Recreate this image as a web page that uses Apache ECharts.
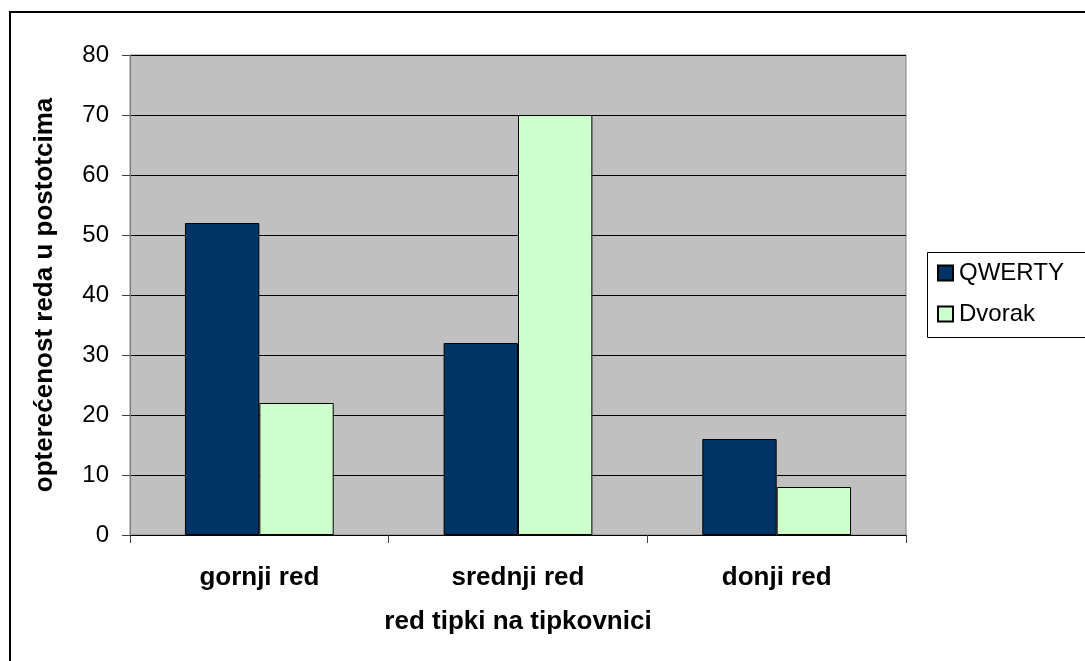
<!DOCTYPE html>
<html>
<head>
<meta charset="utf-8">
<script src="https://cdn.jsdelivr.net/npm/echarts@6/dist/echarts.min.js"></script>
<style>
  html, body { margin: 0; padding: 0; background: #ffffff; overflow: hidden; }
  #chart { width: 1085px; height: 661px; }
</style>
</head>
<body>
<div id="chart"></div>
<script>
  // podaci
  var categories = ['gornji red', 'srednji red', 'donji red'];
  var qwertyValues = [52, 32, 16];
  var dvorakValues = [22, 70, 8];
  var seriesNames = ['QWERTY', 'Dvorak'];

  var font = '"Liberation Sans", Arial, sans-serif';
  var myChart = echarts.init(document.getElementById('chart'));

  var chartOption = {
    backgroundColor: '#ffffff',
    animation: false,
    textStyle: { fontFamily: font },
    graphic: [
      // okvir cijele slike (desni i donji rub izvan slike)
      {
        type: 'rect',
        shape: { x: 10, y: 12, width: 1200, height: 800 },
        style: { fill: 'none', stroke: '#000000', lineWidth: 2 },
        z: 0
      },
      // okvir legende
      {
        type: 'rect',
        shape: { x: 927.5, y: 252.5, width: 200, height: 85 },
        style: { fill: '#ffffff', stroke: '#000000', lineWidth: 1 },
        z: 1
      }
    ],
    legend: {
      orient: 'vertical',
      left: 932,
      top: 256,
      itemWidth: 15,
      itemHeight: 15,
      itemGap: 17,
      icon: 'rect',
      textStyle: { fontSize: 24, lineHeight: 24, color: '#000000', fontFamily: font, padding: [0, 0, 0, 1] },
      data: seriesNames,
      z: 5
    },
    grid: {
      left: 130,
      right: 179,
      top: 55,
      bottom: 126,
      show: true,
      backgroundColor: '#c0c0c0',
      borderColor: '#808080',
      borderWidth: 1
    },
    xAxis: {
      type: 'category',
      data: categories,
      name: 'red tipki na tipkovnici',
      nameLocation: 'middle',
      nameGap: 74,
      nameTextStyle: { fontSize: 26, fontWeight: 'bold', color: '#000000', fontFamily: font },
      axisLine: { lineStyle: { color: '#000000', width: 1 } },
      axisTick: { show: true, length: 8, lineStyle: { color: '#404040' } },
      axisLabel: { fontSize: 26, fontWeight: 'bold', color: '#000000', margin: 30, fontFamily: font }
    },
    yAxis: {
      type: 'value',
      min: 0,
      max: 80,
      interval: 10,
      name: 'opterećenost reda u postotcima',
      nameLocation: 'middle',
      nameGap: 72,
      nameTextStyle: { fontSize: 26, fontWeight: 'bold', color: '#000000', fontFamily: font },
      axisLine: { show: true, lineStyle: { color: '#808080' } },
      axisTick: { show: true, length: 8, lineStyle: { color: '#404040' } },
      axisLabel: { fontSize: 24, color: '#000000', margin: 21, fontFamily: font },
      splitLine: { lineStyle: { color: '#000000', width: 1 } }
    },
    series: [
      {
        name: seriesNames[0],
        type: 'bar',
        data: qwertyValues,
        barGap: '0%',
        barCategoryGap: '42.5%',
        itemStyle: { color: '#003366', borderColor: '#000000', borderWidth: 1 }
      },
      {
        name: seriesNames[1],
        type: 'bar',
        data: dvorakValues,
        barGap: '0%',
        barCategoryGap: '42.5%',
        itemStyle: { color: '#ccffcc', borderColor: '#000000', borderWidth: 1 }
      }
    ]
  };

  myChart.setOption(chartOption);
</script>
</body>
</html>
